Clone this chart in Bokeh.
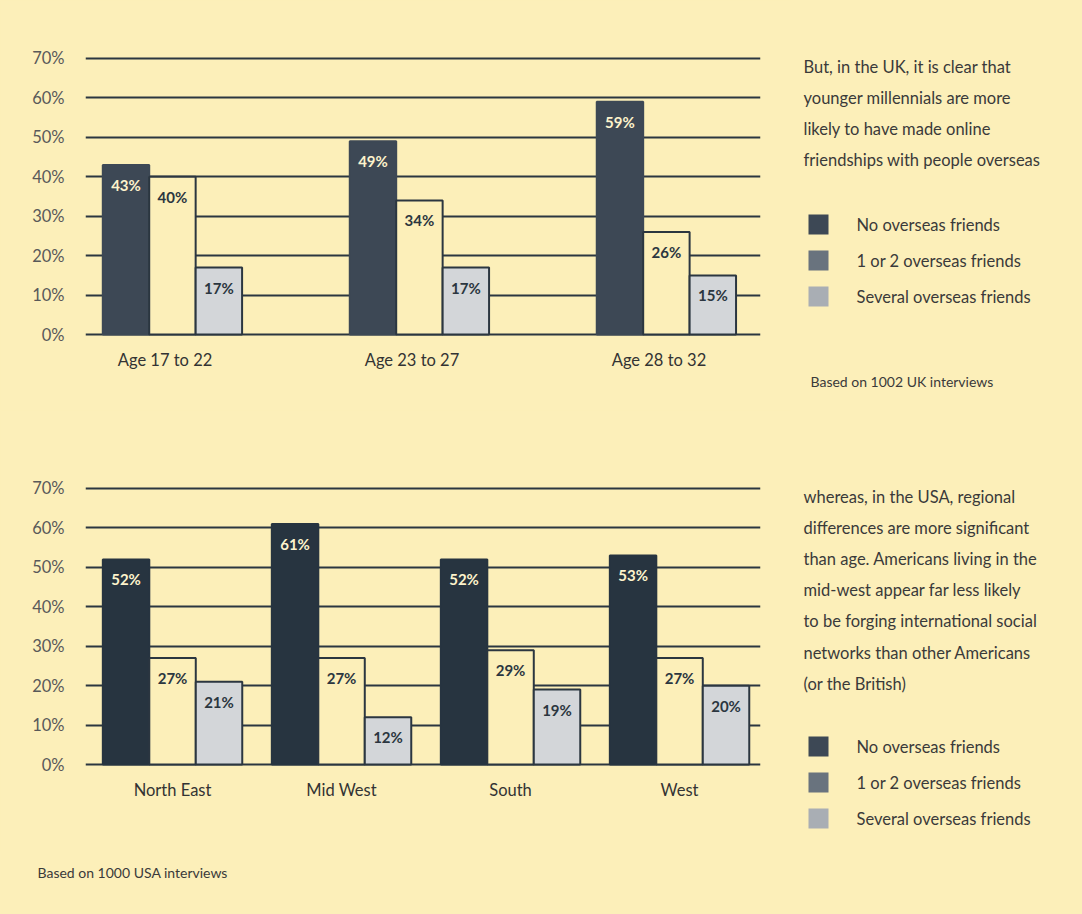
from bokeh.plotting import figure
from bokeh.layouts import column, row
from bokeh.models import Range1d, FixedTicker
from bokeh.core.properties import value
from bokeh.embed import file_html
from bokeh.resources import INLINE

# ---------------- data ----------------
uk_groups = ["Age 17 to 22", "Age 23 to 27", "Age 28 to 32"]
uk_none = [43, 49, 59]
uk_one_two = [40, 34, 26]
uk_several = [17, 17, 15]

usa_groups = ["North East", "Mid West", "South", "West"]
usa_none = [52, 61, 52, 53]
usa_one_two = [27, 27, 29, 27]
usa_several = [21, 12, 19, 20]

y_ticks = [0, 10, 20, 30, 40, 50, 60, 70]
legend_labels = ["No overseas friends", "1 or 2 overseas friends", "Several overseas friends"]

uk_text = ["But, in the UK, it is clear that",
           "younger millennials are more",
           "likely to have made online",
           "friendships with people overseas"]
usa_text = ["whereas, in the USA, regional",
            "differences are more significant",
            "than age.  Americans living in the",
            "mid-west appear far less likely",
            "to be forging international social",
            "networks than other Americans",
            "(or the British)"]
uk_note = "Based on 1002 UK interviews"
usa_note = "Based on 1000 USA interviews"

# ---------------- style ----------------
BG = "#fcefb9"
INK = "#2b3640"
CREAM = BG
LIGHT = "#d3d6d9"
FONT = "Lato"
TXT = "#3a3a3a"
legend_colors = ["#3d4855", "#69737e", "#a9aeb4"]


def style_fig(p):
    p.background_fill_color = BG
    p.border_fill_color = BG
    p.outline_line_color = None
    p.frame_align = False


def make_chart(groups, s_none, s_one, s_sev, dark, x0, x1, width, top_b, bot_b, shift):
    p = figure(frame_width=675, frame_height=288,
               x_range=Range1d(x0, x1), y_range=Range1d(-1.5, 71.5),
               min_border_left=85, min_border_right=30,
               min_border_top=top_b, min_border_bottom=bot_b,
               output_backend="svg", toolbar_location=None)
    style_fig(p)

    n = len(groups)
    idx = list(range(n))
    series = [(s_none, dark, dark, "#fdf3cc"),
              (s_one, CREAM, INK, INK),
              (s_sev, LIGHT, INK, INK)]
    for k, (vals, fill, line, tcol) in enumerate(series):
        xs = [i + (k - 1) * width for i in idx]
        p.vbar(x=xs, top=vals, bottom=0, width=width, fill_color=fill,
               line_color=line, line_width=2)
        p.text(x=xs, y=vals, text=[f"{v}%" for v in vals],
               text_align="center", text_baseline="middle", y_offset=20,
               text_font=value(FONT), text_font_style="bold",
               text_font_size="15px", text_color=tcol)

    yt = FixedTicker(ticks=y_ticks)
    p.yaxis.ticker = yt
    p.yaxis.major_label_overrides = {t: f"{t}%" for t in y_ticks}
    p.yaxis.axis_line_color = None
    p.yaxis.major_tick_line_color = None
    p.yaxis.minor_tick_line_color = None
    p.yaxis.major_label_standoff = 15
    p.yaxis.major_label_text_font = FONT
    p.yaxis.major_label_text_font_size = "16.5px"
    p.yaxis.major_label_text_color = "#595959"

    ticks = [i + shift for i in idx]
    p.xaxis.ticker = FixedTicker(ticks=ticks)
    p.xaxis.major_label_overrides = {t: g for t, g in zip(ticks, groups)}
    p.xaxis.axis_line_color = None
    p.xaxis.major_tick_line_color = None
    p.xaxis.minor_tick_line_color = None
    p.xaxis.major_label_standoff = 3
    p.xaxis.major_label_text_font = FONT
    p.xaxis.major_label_text_font_size = "16.5px"
    p.xaxis.major_label_text_color = "#333333"

    p.xgrid.visible = False
    p.ygrid.ticker = yt
    p.ygrid.grid_line_color = INK
    p.ygrid.grid_line_width = 2
    p.ygrid.level = "underlay"
    return p


def make_text_fig(w, h):
    p = figure(frame_width=w, frame_height=h, x_range=Range1d(0, w),
               y_range=Range1d(h, 0), min_border=0,
               output_backend="svg", toolbar_location=None)
    style_fig(p)
    p.xaxis.visible = False
    p.yaxis.visible = False
    p.grid.visible = False
    return p


def add_paragraph(p, lines, x, y0, dy):
    p.text(x=[x] * len(lines), y=[y0 + i * dy for i in range(len(lines))],
           text=lines, text_align="left", text_baseline="middle",
           text_font=value(FONT), text_font_size="16.5px", text_color=TXT)


def add_legend(p, y0, dy):
    ys = [y0 + i * dy for i in range(len(legend_labels))]
    p.rect(x=[28] * 3, y=ys, width=20, height=20, fill_color=legend_colors,
           line_color=None)
    p.text(x=[66] * 3, y=ys, text=legend_labels, text_align="left",
           text_baseline="middle", text_font=value(FONT),
           text_font_size="16.5px", text_color=TXT)


def add_note(p, x, y, note):
    p.text(x=[x], y=[y], text=[note], text_align="left",
           text_baseline="middle", text_font=value(FONT),
           text_font_size="14px", text_color=TXT)


# ---------------- top (UK) ----------------
top_chart = make_chart(uk_groups, uk_none, uk_one_two, uk_several, "#3d4855",
                       -0.352, 2.381, 0.188, 52, 70, -0.03)
top_text = make_text_fig(292, 410)
add_paragraph(top_text, uk_text, 13, 66, 31.3)
add_legend(top_text, 224, 36)
add_note(top_text, 20, 381, uk_note)

# ---------------- bottom (USA) ----------------
bot_chart = make_chart(usa_groups, usa_none, usa_one_two, usa_several, "#273440",
                       -0.515, 3.479, 0.275, 72, 80, 0.0)
bot_text = make_text_fig(292, 440)
add_paragraph(bot_text, usa_text, 13, 86, 31.2)
add_legend(bot_text, 336, 36)

foot = make_text_fig(1082, 64)
add_note(foot, 37, 22, usa_note)

layout = column(row(top_chart, top_text), row(bot_chart, bot_text), foot)

html = file_html(layout, INLINE)
html = html.replace("</head>",
                    f"<style>html, body {{ background-color: {BG} !important; }}</style></head>", 1)
open("out.html", "w").write(html)
